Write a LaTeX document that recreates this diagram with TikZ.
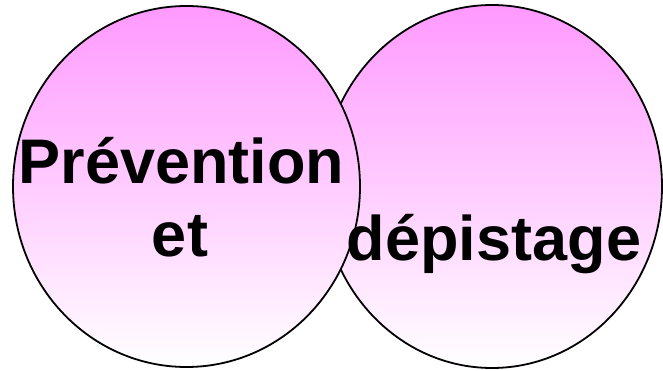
\documentclass[tikz,border=0pt]{standalone}
\usepackage{fontspec}
\setmainfont{Liberation Sans}
\usepackage{tikz}
\usetikzlibrary{shapes.geometric, positioning}
\definecolor{mpink}{HTML}{FF99FF}
\definecolor{mmid}{HTML}{FFCCFF}
\definecolor{mwhite}{HTML}{FFFFFF}
\tikzset{
  bulle/.style={ellipse, draw=black, line width=1.8pt, inner sep=0pt, outer sep=0pt,
                top color=mpink, middle color=mmid, bottom color=mwhite},
  mot/.style={anchor=base, inner sep=0pt, font=\fontsize{63}{63}\selectfont\bfseries},
}
\begin{document}
\begin{tikzpicture}[x=1pt, y=-1pt]
  \useasboundingbox (0,0) rectangle (663,371);
  %% ── ellipses ──
  \node[bulle, minimum width=340pt, minimum height=363pt] (depi) at (492,186.5) {};
  \node[bulle, minimum width=347pt, minimum height=361pt] (prev) at (186.5,186.5) {};

  %% ── words ──
  \node[mot] (mprev) at (181.5,184) {Prévention};
  \node[mot] (met) at (180,256) {et};
  \node[mot] (mdepi) at (494,260) {dépistage};
\end{tikzpicture}
\end{document}
